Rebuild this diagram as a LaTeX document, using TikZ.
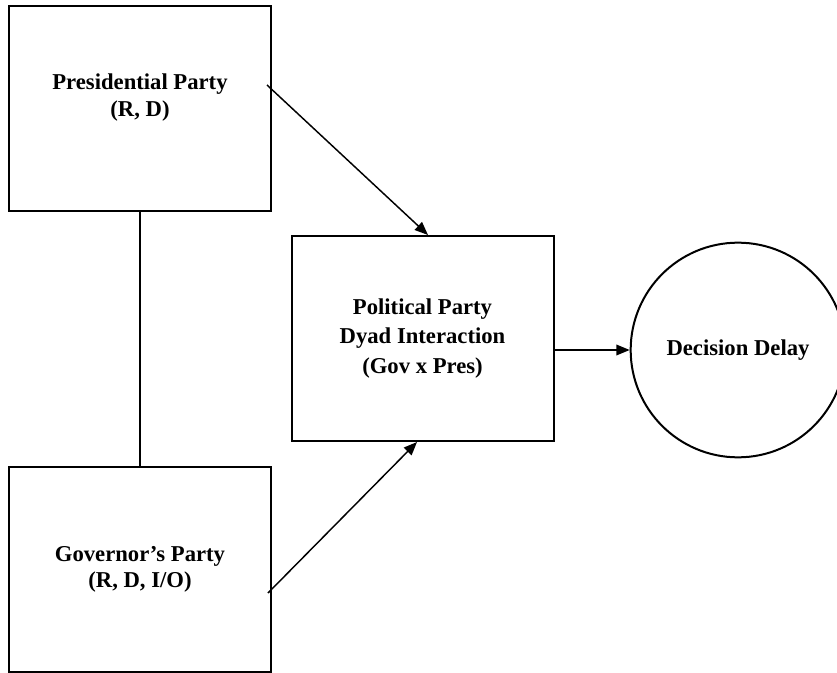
\documentclass[tikz,border=0pt]{standalone}
\usepackage{fontspec}
\setmainfont{Liberation Serif}
\usetikzlibrary{arrows.meta,positioning,calc}
\definecolor{cInk}{HTML}{000000}
\tikzset{
  box/.style={draw=cInk, line width=1.5pt, fill=white, align=center, font=\bfseries\fontsize{17}{20}\selectfont, minimum width=196.5pt, minimum height=153.75pt, inner sep=4pt},
  outc/.style={circle, draw=cInk, line width=1.5pt, fill=white, align=center, font=\bfseries\fontsize{17}{20}\selectfont, minimum size=161pt, inner sep=0pt},
  flow/.style={-{Triangle[length=10pt, width=8pt]}, line width=1.1pt, draw=cInk},
  link/.style={line width=1.5pt, draw=cInk},
}
\begin{document}
\begin{tikzpicture}[x=0.75pt, y=-0.75pt]
\useasboundingbox (0,0) rectangle (837,673);
\node[box, text depth=20pt] (pres) at (140,108.5) {Presidential Party\\(R, D)};
\node[box, below=190.5pt of pres] (gov) {Governor’s Party\\(R, D, I/O)};
\node[box, font=\bfseries\fontsize{17}{22}\selectfont] (mid) at (422.5,338.5) {Political Party\\Dyad Interaction\\(Gov x Pres)};
\node[outc] (delay) at (738,350) {Decision Delay};
% connectors
\draw[link] (pres) -- (gov);
\coordinate (pA) at ($(pres.east)+(-5,-23.5)$);
\coordinate (mA) at ($(mid.north)+(5.5,0)$);
\coordinate (gA) at ($(gov.east)+(-4,23.5)$);
\coordinate (mB) at ($(mid.south)+(-5.5,0)$);
\draw[flow] (pA) -- (mA);
\draw[flow] (gA) -- (mB);
\draw[flow] (delay.west -| mid.east) -- (delay.west);
\end{tikzpicture}
\end{document}
